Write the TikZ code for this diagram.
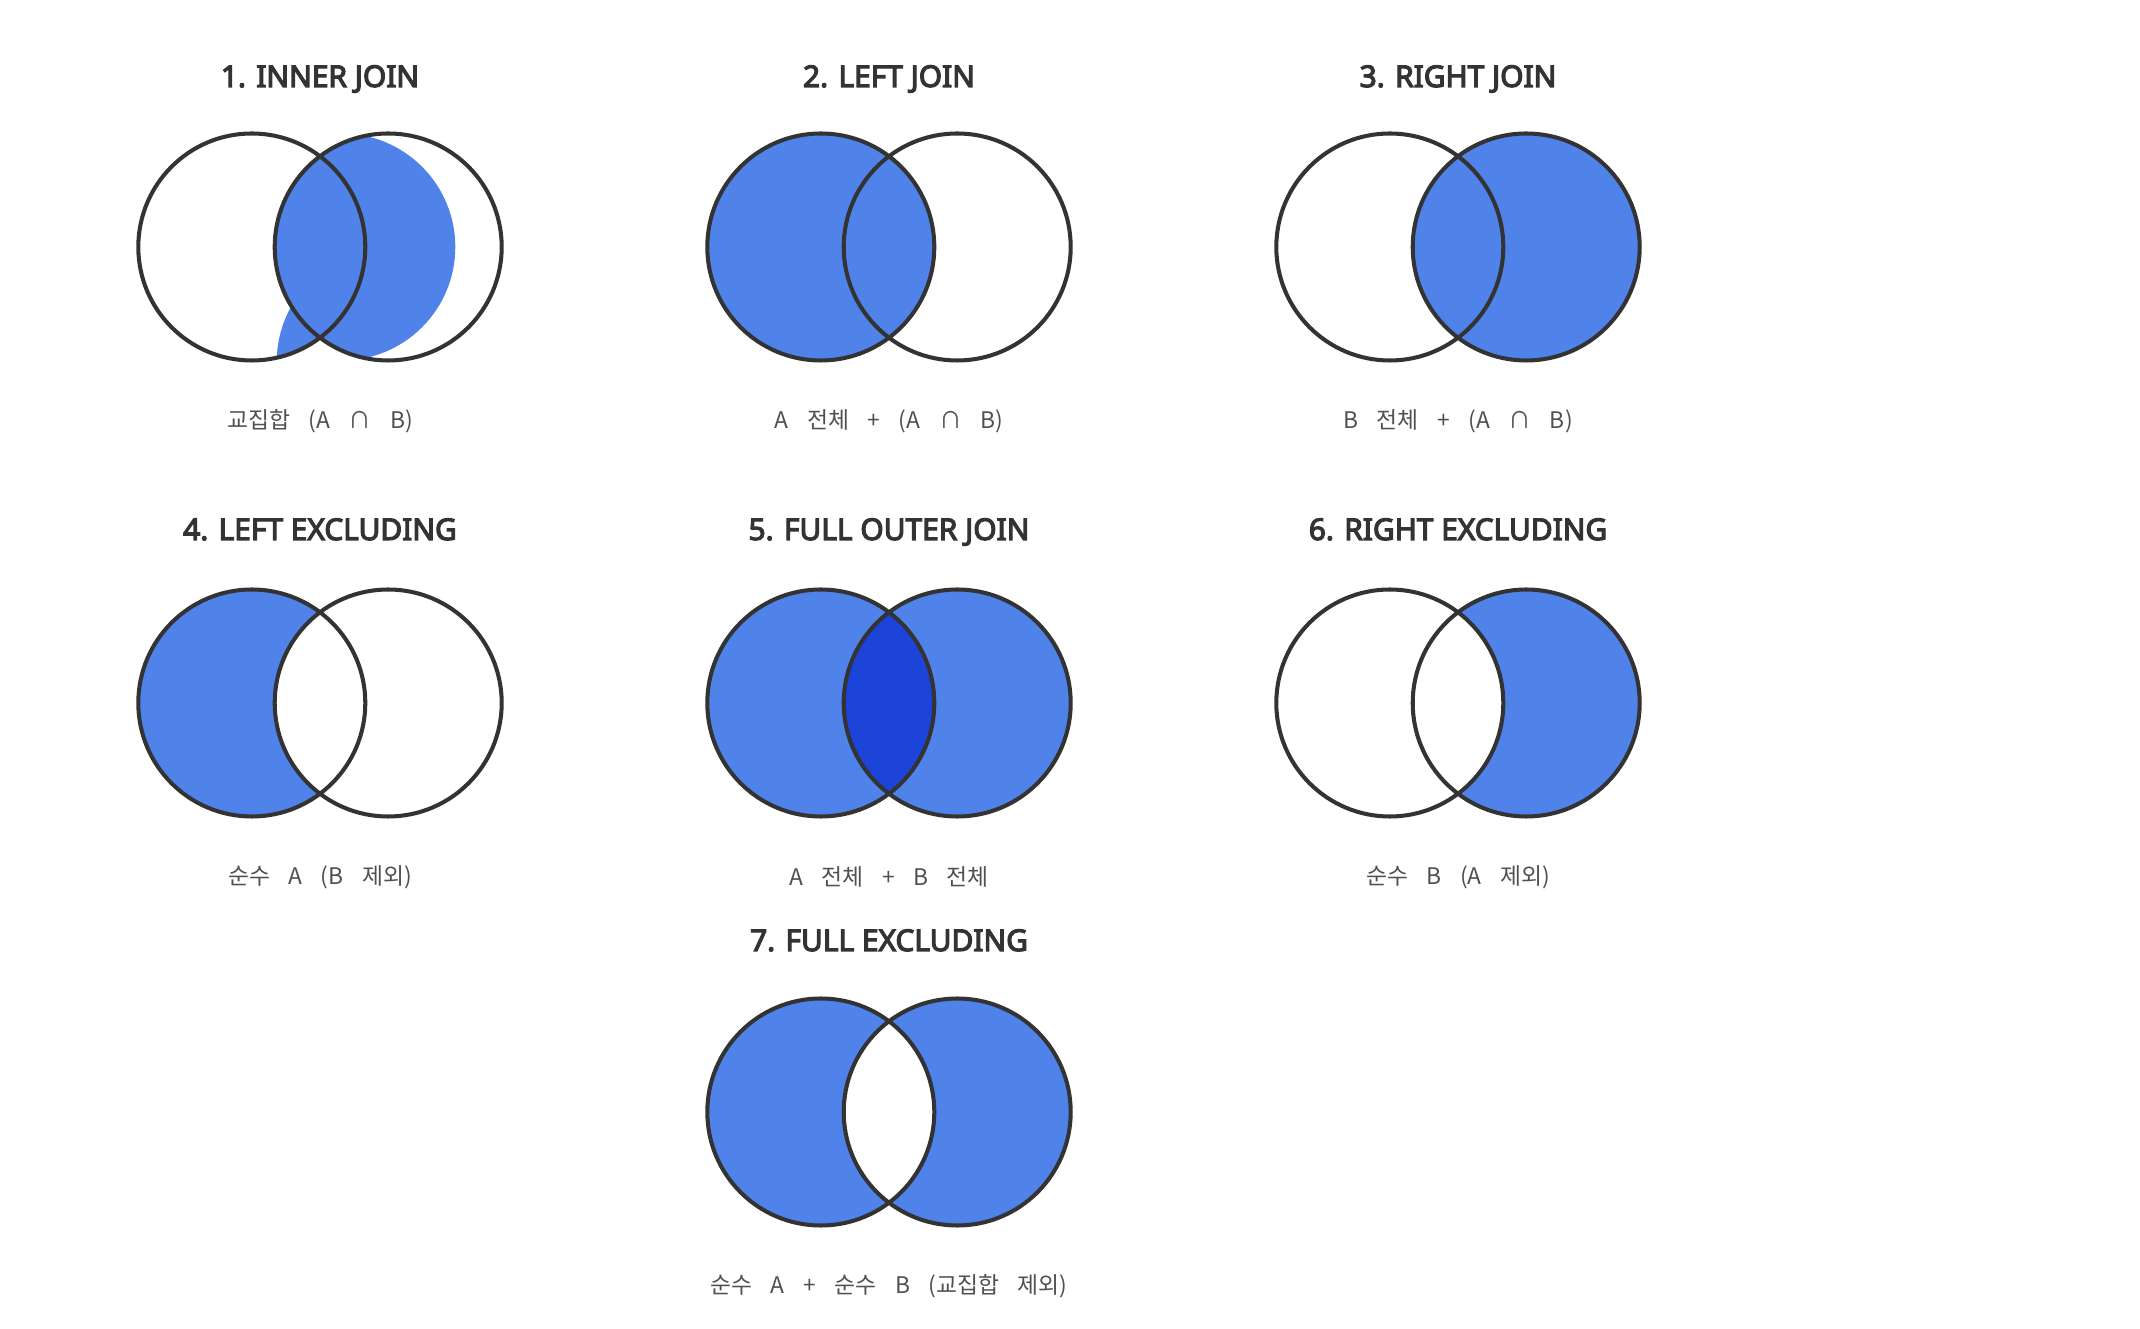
\documentclass[tikz,border=0pt]{standalone}
\usepackage{fontspec}
\usepackage{xcolor}
\usetikzlibrary{positioning, calc}

\newfontfamily\kofont{Noto Sans CJK KR}
\newfontfamily\headfont{Noto Sans}[FakeBold=4]
\newcommand\ttlfont{\headfont\fontsize{8.5}{10}\selectfont}
\newcommand\lblfont{\kofont\fontsize{6.5}{7.5}\selectfont\spaceskip=0.185cm\relax}
\definecolor{setfill}{HTML}{5083EA}
\definecolor{setdeep}{HTML}{1C44D8}
\definecolor{ringcol}{HTML}{333333}
\definecolor{titlecol}{HTML}{333333}
\definecolor{lblcol}{HTML}{505050}

\begin{document}
\begin{tikzpicture}[
  ring/.style={draw=ringcol, line width=1.15pt},
  ttl/.style={font=\ttlfont, text=titlecol, inner sep=0pt, anchor=base},
  lbl/.style={font=\lblfont, text=lblcol, inner sep=0pt}
]
\useasboundingbox (0,0) rectangle (21.40,13.28);

\def\r{1.135}   % circle radius
\def\dx{0.682}  % half distance of the two centres

% ---------- 1. Inner join ----------
\def\cx{3.20} \def\cy{10.81}
\coordinate (a1) at (\cx-\dx,\cy);
\coordinate (b1) at (\cx+\dx,\cy);
\begin{scope}
  \clip (b1) circle (\r);
  \fill[setfill] ($(b1)+(-0.464,0)$) circle (\r);
\end{scope}
\begin{scope}
  \clip (a1) circle (\r);
  \fill[setfill] ($(b1)+(0.02,-1.15)$) circle (\r);
\end{scope}
\draw[ring] (a1) circle (\r) (b1) circle (\r);
\node[ttl] (t1) at (\cx,12.41) {1. INNER JOIN};
\node[lbl] (l1) at (\cx,9.07) {교집합 (A ∩ B)};

% ---------- 2. Left join ----------
\def\cx{8.89}
\coordinate (a2) at (\cx-\dx,\cy);
\coordinate (b2) at (\cx+\dx,\cy);
\fill[setfill] (a2) circle (\r);
\draw[ring] (a2) circle (\r) (b2) circle (\r);
\node[ttl] (t2) at (\cx,12.41) {2. LEFT JOIN};
\node[lbl] (l2) at (\cx,9.07) {A 전체 + (A ∩ B)};

% ---------- 3. Right join ----------
\def\cx{14.58}
\coordinate (a3) at (\cx-\dx,\cy);
\coordinate (b3) at (\cx+\dx,\cy);
\fill[setfill] (b3) circle (\r);
\draw[ring] (a3) circle (\r) (b3) circle (\r);
\node[ttl] (t3) at (\cx,12.41) {3. RIGHT JOIN};
\node[lbl] (l3) at (\cx,9.07) {B 전체 + (A ∩ B)};

% ---------- 4. Left excluding ----------
\def\cx{3.20} \def\cy{6.25}
\coordinate (a4) at (\cx-\dx,\cy);
\coordinate (b4) at (\cx+\dx,\cy);
\fill[setfill] (a4) circle (\r);
\begin{scope}
  \clip (a4) circle (\r);
  \fill[white] (b4) circle (\r);
\end{scope}
\draw[ring] (a4) circle (\r) (b4) circle (\r);
\node[ttl] (t4) at (\cx,7.88) {4. LEFT EXCLUDING};
\node[lbl] (l4) at (\cx,4.51) {순수 A (B 제외)};

% ---------- 5. Full outer join ----------
\def\cx{8.89}
\coordinate (a5) at (\cx-\dx,\cy);
\coordinate (b5) at (\cx+\dx,\cy);
\fill[setfill] (a5) circle (\r) (b5) circle (\r);
\begin{scope}
  \clip (a5) circle (\r);
  \fill[setdeep] (b5) circle (\r);
\end{scope}
\draw[ring] (a5) circle (\r) (b5) circle (\r);
\node[ttl] (t5) at (\cx,7.88) {5. FULL OUTER JOIN};
\node[lbl] (l5) at (\cx,4.51) {A 전체 + B 전체};

% ---------- 6. Right excluding ----------
\def\cx{14.58}
\coordinate (a6) at (\cx-\dx,\cy);
\coordinate (b6) at (\cx+\dx,\cy);
\fill[setfill] (b6) circle (\r);
\begin{scope}
  \clip (b6) circle (\r);
  \fill[white] (a6) circle (\r);
\end{scope}
\draw[ring] (a6) circle (\r) (b6) circle (\r);
\node[ttl] (t6) at (\cx,7.88) {6. RIGHT EXCLUDING};
\node[lbl] (l6) at (\cx,4.51) {순수 B (A 제외)};

% ---------- 7. Full excluding ----------
\def\cx{8.89} \def\cy{2.16}
\coordinate (a7) at (\cx-\dx,\cy);
\coordinate (b7) at (\cx+\dx,\cy);
\fill[setfill] (a7) circle (\r) (b7) circle (\r);
\begin{scope}
  \clip (a7) circle (\r);
  \fill[white] (b7) circle (\r);
\end{scope}
\draw[ring] (a7) circle (\r) (b7) circle (\r);
\node[ttl] (t7) at (\cx,3.77) {7. FULL EXCLUDING};
\node[lbl] (l7) at (\cx,0.42) {순수 A + 순수 B (교집합 제외)};

\end{tikzpicture}
\end{document}
